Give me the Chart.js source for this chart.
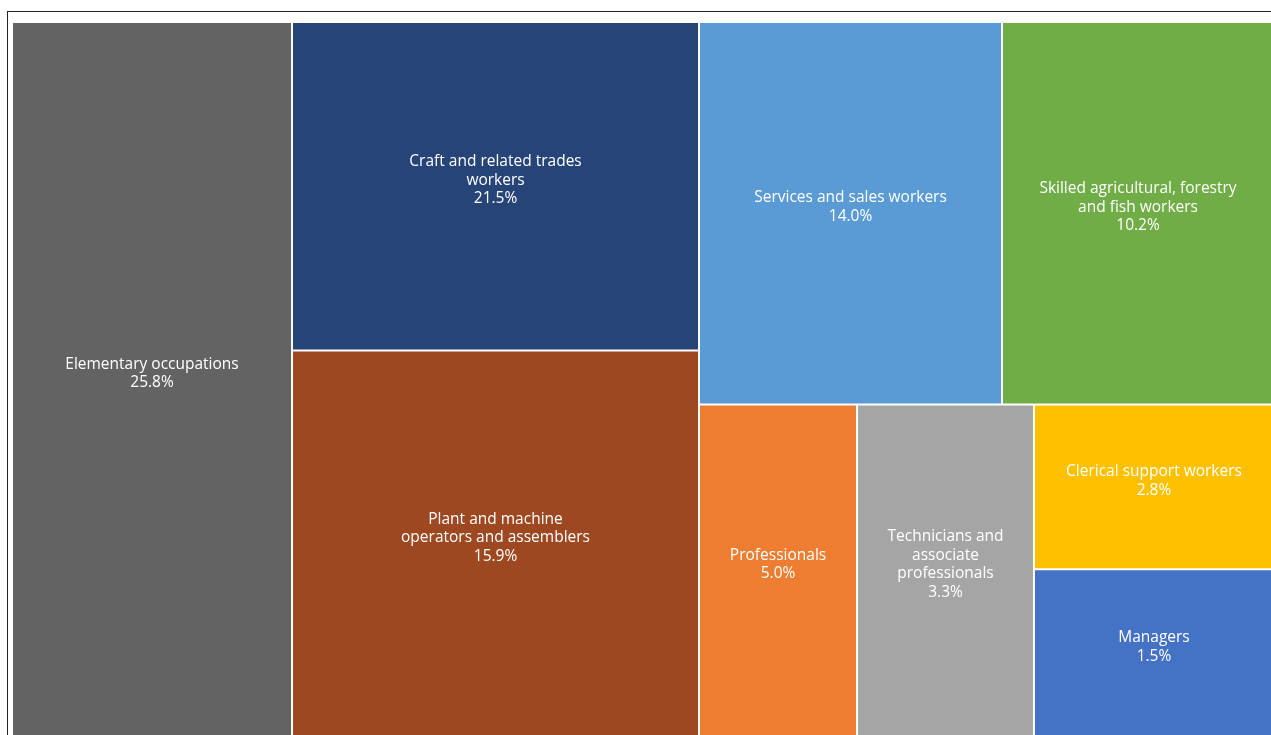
<!DOCTYPE html>
<html>
<head>
<meta charset="utf-8">
<title>Employment by occupation</title>
<script src="https://cdn.jsdelivr.net/npm/chart.js@4.4.1/dist/chart.umd.min.js"></script>
<style>
  html, body { margin: 0; padding: 0; background: #fff; overflow: hidden; }
  #frame { position: absolute; left: 7px; top: 11px; width: 1320px; height: 780px; border: 1px solid #222; }
  #wrap { position: absolute; left: 12px; top: 22px; width: 1262px; height: 715px; }
</style>
</head>
<body>
<div id="frame"></div>
<div id="wrap"><canvas id="treemap"></canvas></div>
<script>
const categories = [
  ['Elementary occupations'],
  ['Craft and related trades', 'workers'],
  ['Plant and machine', 'operators and assemblers'],
  ['Services and sales workers'],
  ['Skilled agricultural, forestry', 'and fish workers'],
  ['Professionals'],
  ['Technicians and', 'associate', 'professionals'],
  ['Clerical support workers'],
  ['Managers']
];
// percentages printed in the cells
const shares = [25.8, 21.5, 15.9, 14.0, 10.2, 5.0, 3.3, 2.8, 1.5];
// size of each cell (relative units)
const cellSizes = [200.5, 133.9, 157.5, 116.1, 104.2, 52.6, 58.9, 39.6, 40.3];
const colors = ['#636363', '#264478', '#9E4822', '#5B9BD5', '#70AD47', '#ED7D31', '#A5A5A5', '#FFC000', '#4472C4'];
// how cells are grouped; every group is split along its longer side
const groups = [0, [1, 2], [[3, 4], [5, 6, [7, 8]]]];

function groupTotal(node, sizes) {
  return Array.isArray(node) ? node.reduce((s, n) => s + groupTotal(n, sizes), 0) : sizes[node];
}

function layout(node, sizes, x0, y0, x1, y1, pxW, pxH, out) {
  if (!Array.isArray(node)) {
    out[node] = {x0: x0, y0: y0, x1: x1, y1: y1};
    return;
  }
  const sum = groupTotal(node, sizes);
  const wide = (x1 - x0) * pxW >= (y1 - y0) * pxH;
  let pos = wide ? x0 : y0;
  node.forEach(child => {
    const span = (wide ? x1 - x0 : y1 - y0) * groupTotal(child, sizes) / sum;
    if (wide) layout(child, sizes, pos, y0, pos + span, y1, pxW, pxH, out);
    else layout(child, sizes, x0, pos, x1, pos + span, pxW, pxH, out);
    pos += span;
  });
}

class TreemapController extends Chart.DatasetController {
  parse() {
    this._cachedMeta._parsed = this.getDataset().data.slice();
  }
  getMinMax() {
    return {min: 0, max: 1};
  }
  update(mode) {
    const meta = this._cachedMeta;
    this.updateElements(meta.data, 0, meta.data.length, mode);
  }
  updateElements(rects, start, count, mode) {
    const meta = this._cachedMeta;
    const xScale = meta.xScale;
    const yScale = meta.yScale;
    const boxes = [];
    layout(groups, meta._parsed, 0, 0, 1, 1, xScale.width || 1, yScale.height || 1, boxes);
    for (let i = start; i < start + count; i++) {
      const b = boxes[i];
      const left = xScale.getPixelForValue(b.x0);
      const right = xScale.getPixelForValue(b.x1);
      const top = yScale.getPixelForValue(b.y0);
      const bottom = yScale.getPixelForValue(b.y1);
      Object.assign(rects[i], {
        x: (left + right) / 2,
        width: right - left,
        y: top,
        base: bottom,
        horizontal: false,
        borderSkipped: {top: false, left: false, bottom: false, right: false},
        inflateAmount: 0,
        enableBorderRadius: false,
        options: this.resolveDataElementOptions(i, mode)
      });
    }
  }
}
TreemapController.id = 'treemap';
TreemapController.defaults = {datasetElementType: false, dataElementType: 'bar'};
Chart.register(TreemapController);

const cellLabels = {
  id: 'cellLabels',
  afterDatasetsDraw(chart) {
    const ctx = chart.ctx;
    const meta = chart.getDatasetMeta(0);
    const lineH = 18.5;
    ctx.save();
    ctx.fillStyle = '#ffffff';
    ctx.font = '15.5px "Open Sans"';
    ctx.textAlign = 'center';
    ctx.textBaseline = 'middle';
    meta.data.forEach((rect, i) => {
      const lines = categories[i].concat(shares[i].toFixed(1) + '%');
      const firstY = (rect.y + rect.base) / 2 - 6 - (lines.length - 1) * lineH / 2;
      lines.forEach((t, j) => ctx.fillText(t, rect.x, firstY + j * lineH));
    });
    ctx.restore();
  }
};

new Chart(document.getElementById('treemap'), {
  type: 'treemap',
  data: {
    labels: categories,
    datasets: [{
      data: cellSizes,
      backgroundColor: colors,
      borderColor: '#ffffff',
      borderWidth: 1
    }]
  },
  options: {
    responsive: true,
    maintainAspectRatio: false,
    animation: false,
    events: [],
    layout: {padding: 0},
    scales: {
      x: {type: 'linear', min: 0, max: 1, display: false},
      y: {type: 'linear', min: 0, max: 1, reverse: true, display: false}
    },
    plugins: {
      legend: {display: false},
      tooltip: {enabled: false}
    }
  },
  plugins: [cellLabels]
});
</script>
</body>
</html>
